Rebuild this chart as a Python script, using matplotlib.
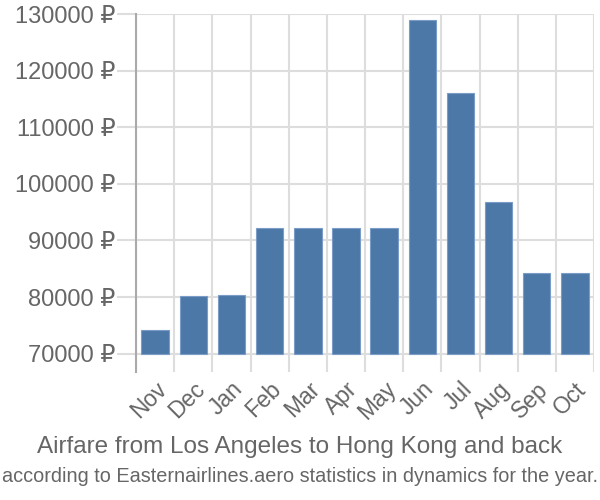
import matplotlib.pyplot as plt
import numpy as np

months = ["Nov", "Dec", "Jan", "Feb", "Mar", "Apr", "May", "Jun", "Jul", "Aug", "Sep", "Oct"]
prices = [74200, 80200, 80300, 92200, 92200, 92200, 92200, 128900, 116100, 96700, 84300, 84300]
yticks = [70000, 80000, 90000, 100000, 110000, 120000, 130000]
base = 70000

plt.rcParams['font.family'] = ['Liberation Sans', 'DejaVu Sans']

fig = plt.figure(figsize=(6, 5), dpi=100)
ax = fig.add_axes([0.2267, 0.256, 0.7633, 0.716])

x = np.arange(len(months))
heights = [p - base for p in prices]
ax.bar(x, heights, bottom=base, width=0.72, color="#4c78a8", edgecolor="#7a9cc6",
       linewidth=0.8, zorder=3)

ax.set_xlim(-0.5, len(months) - 0.5)
ax.set_ylim(66750, 130000)

ax.set_yticks(yticks)
ax.set_yticklabels([f"{v} \u20bd" for v in yticks], fontsize=17, color="#666666")
ax.tick_params(axis="y", length=14, color="#dddddd", width=1.5, pad=1)

ax.set_xticks(x)
ax.set_xticklabels(months, rotation=45, ha="right", va="top", rotation_mode="anchor",
                   fontsize=16.5, color="#666666")
ax.tick_params(axis="x", which="major", length=0, pad=4)
ax.set_xticks(np.arange(-0.5, len(months), 1), minor=True)
ax.tick_params(axis="x", which="minor", length=0)

ax.grid(axis="y", color="#dddddd", linewidth=1.5, zorder=0)
ax.grid(axis="x", which="minor", color="#dddddd", linewidth=1.5, zorder=0)
ax.grid(axis="x", which="major", visible=False)

for s in ["top", "right", "bottom"]:
    ax.spines[s].set_visible(False)
ax.spines["left"].set_color("#aaaaaa")
ax.spines["left"].set_linewidth(1.5)

fig.text(0.5, 0.105, "Airfare from Los Angeles to Hong Kong and back", ha="center", va="center",
         fontsize=17.5, color="#666666")
fig.text(0.5, 0.046, "according to Easternairlines.aero statistics in dynamics for the year.",
         ha="center", va="center", fontsize=14.3, color="#666666")

fig.savefig("out.png", dpi=100)
